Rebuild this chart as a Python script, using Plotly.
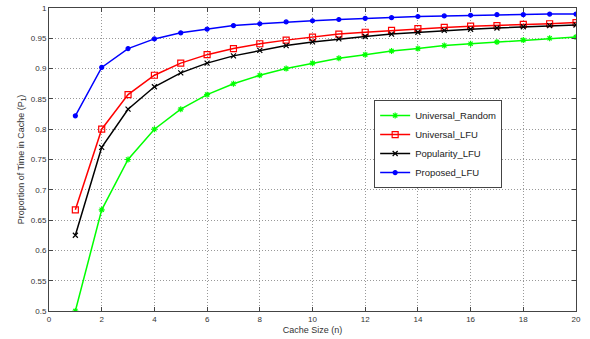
import plotly.graph_objects as go

cache_size = list(range(1, 21))

universal_random = [0.500, 0.667, 0.750, 0.800, 0.833, 0.857, 0.875, 0.889, 0.900, 0.909,
                    0.917, 0.923, 0.929, 0.933, 0.938, 0.941, 0.944, 0.947, 0.950, 0.952]
universal_lfu = [0.667, 0.800, 0.857, 0.889, 0.909, 0.923, 0.933, 0.941, 0.947, 0.952,
                 0.957, 0.960, 0.963, 0.966, 0.968, 0.970, 0.971, 0.973, 0.974, 0.976]
popularity_lfu = [0.625, 0.770, 0.833, 0.870, 0.893, 0.909, 0.921, 0.930, 0.938, 0.944,
                  0.949, 0.953, 0.957, 0.960, 0.963, 0.965, 0.967, 0.969, 0.971, 0.972]
proposed_lfu = [0.822, 0.902, 0.933, 0.949, 0.959, 0.965, 0.971, 0.974, 0.977, 0.979,
                0.981, 0.983, 0.984, 0.986, 0.987, 0.988, 0.989, 0.989, 0.990, 0.990]

x_ticks = list(range(0, 21, 2))
y_ticks = [0.5, 0.55, 0.6, 0.65, 0.7, 0.75, 0.8, 0.85, 0.9, 0.95, 1.0]
y_tick_labels = ["0.5", "0.55", "0.6", "0.65", "0.7", "0.75", "0.8", "0.85", "0.9", "0.95", "1"]

series = [
    ("Universal_Random", universal_random, "#00ff00", "asterisk-open", 5),
    ("Universal_LFU", universal_lfu, "#ff0000", "square-open", 6),
    ("Popularity_LFU", popularity_lfu, "#000000", "x-thin-open", 5),
    ("Proposed_LFU", proposed_lfu, "#0000ff", "circle", 4),
]

fig = go.Figure()
for name, vals, color, sym, size in series:
    fig.add_trace(go.Scatter(
        x=cache_size, y=vals, name=name, mode="lines+markers",
        line=dict(color=color, width=1.5),
        marker=dict(symbol=sym, size=size, color=color,
                    line=dict(color=color, width=1.2)),
    ))

axis_common = dict(
    showline=True, linecolor="#444444", linewidth=1, mirror="allticks",
    ticks="inside", ticklen=4, tickcolor="#444444",
    showgrid=True, gridcolor="#999999", griddash="1px,2px", gridwidth=1,
    zeroline=False, tickfont=dict(size=8, color="#333333"),
    automargin=False,
)

fig.update_layout(
    width=590, height=339,
    margin=dict(l=49, r=14, t=8, b=28),
    paper_bgcolor="white", plot_bgcolor="white",
    font=dict(family="Liberation Sans, Arial, sans-serif", size=9, color="#333333"),
    xaxis=dict(range=[0, 20], tickvals=x_ticks,
               title=dict(text="Cache Size (n)", font=dict(size=9), standoff=4),
               **axis_common),
    yaxis=dict(range=[0.5, 1.0], tickvals=y_ticks, ticktext=y_tick_labels,
               title=dict(text="Proportion of Time in Cache (P<sub>1</sub>)", font=dict(size=9), standoff=4),
               **axis_common),
    legend=dict(x=0.617, y=0.551, xanchor="left", yanchor="middle",
                bgcolor="white", bordercolor="#444444", borderwidth=1,
                font=dict(size=9.5, color="#222222"), tracegroupgap=0,
                itemwidth=30),
    showlegend=True,
)

fig.write_html("out.html", config={"displayModeBar": False},
               post_script="document.body.style.margin='0';")
